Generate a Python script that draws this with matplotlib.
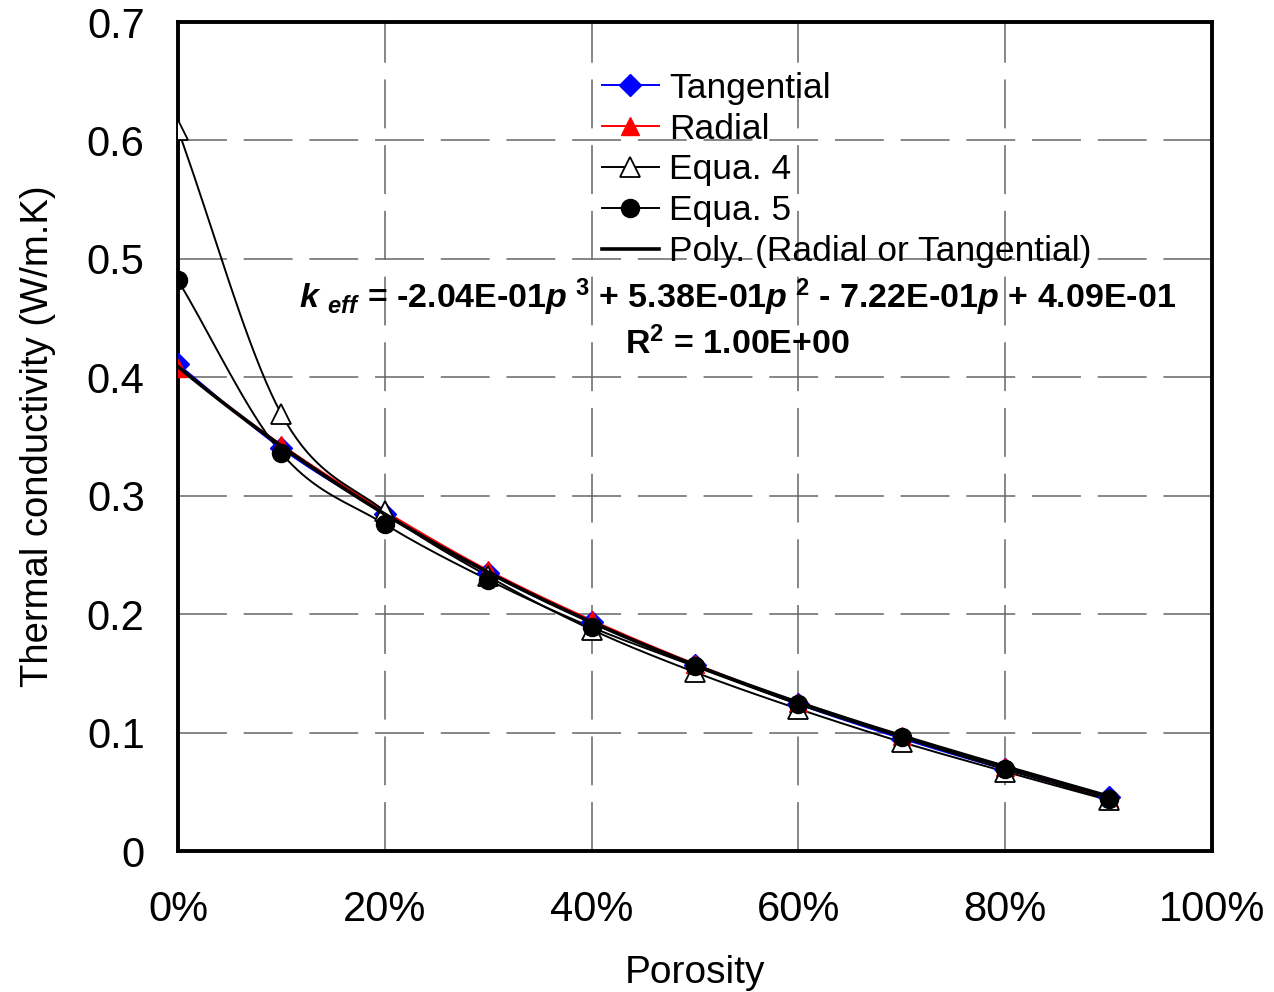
import numpy as np
import matplotlib
matplotlib.use("Agg")
import matplotlib.pyplot as plt
from matplotlib.ticker import PercentFormatter, MultipleLocator, FuncFormatter

plt.rcParams['font.family'] = ['Liberation Sans', 'DejaVu Sans']
plt.rcParams['mathtext.fontset'] = 'custom'
plt.rcParams['mathtext.rm'] = 'Liberation Sans:bold'
plt.rcParams['mathtext.it'] = 'Liberation Sans:bold:italic'
plt.rcParams['mathtext.bf'] = 'Liberation Sans:bold'

# data
porosity = [0.0, 0.1, 0.2, 0.3, 0.4, 0.5, 0.6, 0.7, 0.8, 0.9]
tangential = [0.411, 0.340, 0.285, 0.235, 0.193, 0.157, 0.124, 0.095, 0.069, 0.046]
radial = [0.408, 0.343, 0.287, 0.237, 0.195, 0.158, 0.125, 0.097, 0.071, 0.045]
equa4 = [0.609, 0.369, 0.287, 0.232, 0.187, 0.151, 0.120, 0.092, 0.067, 0.043]
equa5 = [0.482, 0.336, 0.276, 0.229, 0.189, 0.156, 0.124, 0.096, 0.069, 0.044]
# trendline coefficients shown on the chart (p^3, p^2, p, 1)
poly_coef = [-2.04e-01, 5.38e-01, -7.22e-01, 4.09e-01]


def smooth(x, y, n=20):
    # catmull-rom curve through the points, like excel's "smoothed line"
    x = np.asarray(x, float)
    y = np.asarray(y, float)
    px = np.concatenate([[2 * x[0] - x[1]], x, [2 * x[-1] - x[-2]]])
    py = np.concatenate([[2 * y[0] - y[1]], y, [2 * y[-1] - y[-2]]])
    xs, ys = [], []
    t = np.linspace(0, 1, n, endpoint=False)
    for i in range(1, len(px) - 2):
        for p, out in ((px, xs), (py, ys)):
            p0, p1, p2, p3 = p[i - 1], p[i], p[i + 1], p[i + 2]
            out.extend(0.5 * (2 * p1 + (-p0 + p2) * t
                              + (2 * p0 - 5 * p1 + 4 * p2 - p3) * t ** 2
                              + (-p0 + 3 * p1 - 3 * p2 + p3) * t ** 3))
    xs.append(x[-1])
    ys.append(y[-1])
    return np.array(xs), np.array(ys)


fig = plt.figure(figsize=(12.74, 9.92), dpi=100)
ax = fig.add_axes([0.1397, 0.1421, 0.8116, 0.8357])

series = [
    (tangential, 'Tangential', dict(color='blue', marker='D', ms=11, mfc='blue', mec='blue')),
    (radial, 'Radial', dict(color='red', marker='^', ms=13, mfc='red', mec='red')),
    (equa4, 'Equa. 4', dict(color='black', marker='^', ms=14, mfc='white', mec='black', mew=1.3)),
    (equa5, 'Equa. 5', dict(color='black', marker='o', ms=13, mfc='black', mec='black')),
]
handles = []
for vals, name, st in series:
    sx, sy = smooth(porosity, vals)
    ax.plot(sx, sy, color=st['color'], lw=1.4, zorder=3)
    ax.plot(porosity, vals, ls='none', zorder=4,
            **{k: v for k, v in st.items() if k != 'color'})
    h, = ax.plot([], [], lw=1.4, label=name, **st)
    handles.append(h)

pp = np.linspace(porosity[0], porosity[-1], 200)
h, = ax.plot(pp, np.polyval(poly_coef, pp), color='black', lw=2.6, zorder=5,
             label='Poly. (Radial or Tangential)')
handles.append(h)

ax.set_xlim(0, 1)
ax.set_ylim(0, 0.7)
ax.xaxis.set_major_locator(MultipleLocator(0.2))
ax.xaxis.set_major_formatter(PercentFormatter(1.0, decimals=0))
ax.yaxis.set_major_locator(MultipleLocator(0.1))
ax.yaxis.set_major_formatter(FuncFormatter(lambda v, _: '0' if abs(v) < 1e-9 else f'{v:.1f}'))
ax.tick_params(length=0, labelsize=30)
ax.tick_params(axis='x', pad=28)
ax.tick_params(axis='y', pad=24)
ax.grid(True, color='#666666', lw=1.1, dashes=(32, 11))
ax.set_axisbelow(True)
for s in ax.spines.values():
    s.set_linewidth(2.8)

ax.set_xlabel('Porosity', fontsize=28, labelpad=18)
ax.set_ylabel('Thermal conductivity (W/m.K)', fontsize=27.5, labelpad=22)

ax.legend(handles=handles, loc='upper left', bbox_to_anchor=(0.41, 0.94),
          frameon=False, fontsize=25.5, handlelength=1.6, handletextpad=0.3,
          labelspacing=0.22, borderpad=0, borderaxespad=0)

eq = (r'$k$ $_{eff}$ = -2.04E-01$p^{\ 3}$ + 5.38E-01$p^{\ 2}$'
      r' - 7.22E-01$p$ + 4.09E-01')
ax.text(0.541, 0.468, eq, ha='center', va='center', fontsize=24.5,
        fontweight='bold', zorder=6)
ax.text(0.541, 0.4286, r'R$^{2}$ = 1.00E+00', ha='center', va='center',
        fontsize=24.5, fontweight='bold', zorder=6)

fig.savefig('out.png', dpi=100)
